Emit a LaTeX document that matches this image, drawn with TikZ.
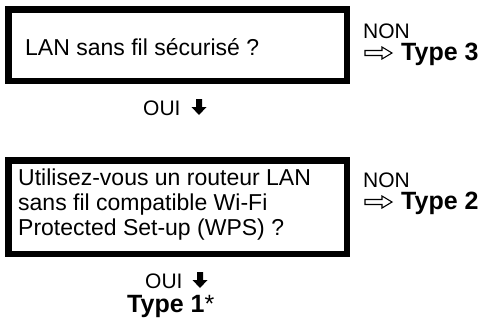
\documentclass[tikz,border=0pt]{standalone}
\usepackage{fontspec}
\setmainfont{Liberation Sans}
\begin{document}
\begin{tikzpicture}[x=1pt,y=-1pt,
  qbox/.style={draw=black,line width=6.5pt,fill=white},
  txt/.style={anchor=base west,inner sep=0pt,font=\fontsize{23}{25}\selectfont,align=left},
  stxt/.style={anchor=base west,inner sep=0pt,font=\fontsize{21}{22}\selectfont},
  btxt/.style={anchor=base west,inner sep=0pt,font=\fontsize{25}{25}\selectfont\bfseries},
  openarrow/.style={draw=black,line width=1.1pt,line join=miter},
  downarrow/.style={fill=black}]
\useasboundingbox (0,0) rectangle (486,324);
\draw[qbox] (8.25,9.5) rectangle (346.75,80.75);
\draw[qbox] (8.25,160.25) rectangle (346.75,253.75);
\node[txt] (q1) at (25,55) {LAN sans fil sécurisé ?};
\node[txt,anchor=north west] (q2) at (18,169) {Utilisez-vous un routeur LAN\\sans fil compatible Wi-Fi\\Protected Set-up (WPS) ?};
% NON -> Type 3
\node[stxt] (n1) at (363,38) {NON};
\coordinate (a1) at (365,53);
\draw[openarrow] (a1) ++(0,-2.5) -- ++(17,0) -- ++(0,-3.5) -- ++(10,6) -- ++(-10,6) -- ++(0,-3.5) -- ++(-17,0) -- cycle;
\node[btxt] (t3) at (401,60) {Type 3};
% NON -> Type 2
\node[stxt] (n2) at (363,187) {NON};
\coordinate (a2) at (365,202);
\draw[openarrow] (a2) ++(0,-2.5) -- ++(17,0) -- ++(0,-3.5) -- ++(10,6) -- ++(-10,6) -- ++(0,-3.5) -- ++(-17,0) -- cycle;
\node[btxt] (t2) at (401,209) {Type 2};
% OUI arrows
\node[stxt] (o1) at (143,115) {OUI};
\coordinate (d1) at (199,115);
\fill[downarrow] (d1) -- ++(-7.5,-8) -- ++(4.5,0) -- ++(0,-8) -- ++(6,0) -- ++(0,8) -- ++(4.5,0) -- cycle;
\node[stxt] (o2) at (145,288) {OUI};
\coordinate (d2) at (200,288);
\fill[downarrow] (d2) -- ++(-7.5,-8) -- ++(4.5,0) -- ++(0,-8) -- ++(6,0) -- ++(0,8) -- ++(4.5,0) -- cycle;
\node[btxt] (t1) at (127,312) {Type 1{\mdseries *}};
\end{tikzpicture}
\end{document}
